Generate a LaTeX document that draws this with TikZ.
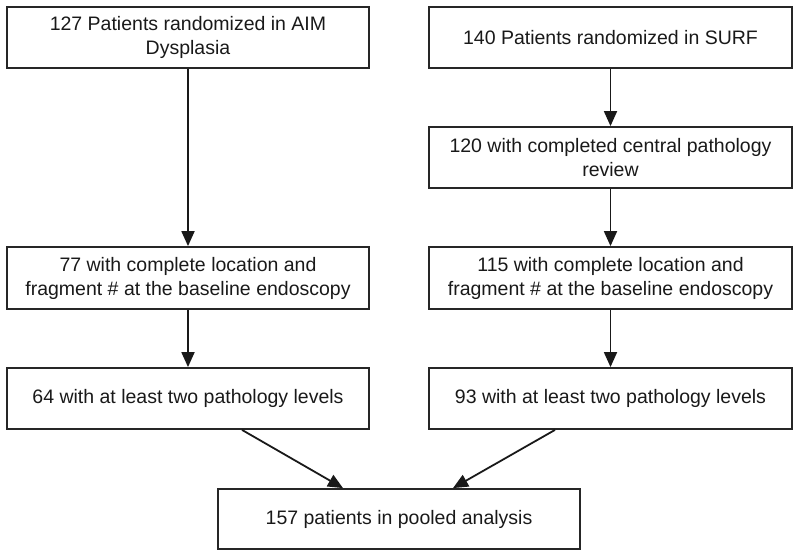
\documentclass[tikz,border=0pt]{standalone}
\usepackage{fontspec}
\setmainfont{Liberation Sans}
\usetikzlibrary{arrows.meta,calc}
\begin{document}
\begin{tikzpicture}[x=1pt,y=-1pt,
  box/.style={draw=black!85, line width=1.8pt, rectangle, align=center,
    font=\fontsize{19.5}{24}\selectfont, text=black!90, inner sep=0pt, minimum height=61pt},
  arr/.style={draw=black!90, line width=1.8pt, -{Triangle[length=15pt,width=13pt]}}]
\useasboundingbox (0,0) rectangle (800,559);
\node[box, minimum width=362pt] (b1) at (188,37.5) {127 Patients randomized in AIM\\Dysplasia};
\node[box, minimum width=363pt] (b2) at (610.5,37.5) {140 Patients randomized in SURF};
\node[box, minimum width=363pt] (b3) at (610.5,157.5) {120 with completed central pathology\\review};
\node[box, minimum width=362pt, minimum height=62pt] (b4) at (188,278) {77 with complete location and\\fragment \# at the baseline endoscopy};
\node[box, minimum width=363pt, minimum height=62pt] (b5) at (610.5,278) {115 with complete location and\\fragment \# at the baseline endoscopy};
\node[box, minimum width=362pt] (b6) at (188,398.5) {64 with at least two pathology levels};
\node[box, minimum width=363pt] (b7) at (610.5,398.5) {93 with at least two pathology levels};
\node[box, minimum width=362pt, minimum height=60pt] (b8) at (399,519) {157 patients in pooled analysis};
\draw[arr] (b1) -- (b4);
\draw[arr] (b2) -- (b3);
\draw[arr] (b3) -- (b5);
\draw[arr] (b4) -- (b6);
\draw[arr] (b5) -- (b7);
\draw[arr] ($(b6.south)+(54,0)$) -- ($(b8.north)+(-56,0)$);
\draw[arr] ($(b7.south)+(-55.5,0)$) -- ($(b8.north)+(54,0)$);
\end{tikzpicture}
\end{document}
